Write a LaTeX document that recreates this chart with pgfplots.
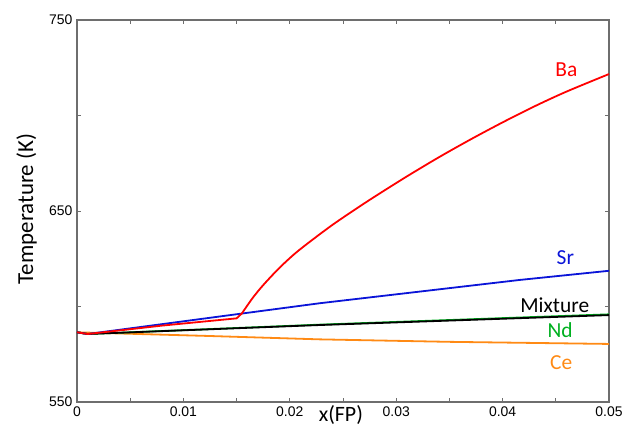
\documentclass[border=0pt]{standalone}
\usepackage{pgfplots}
\pgfplotsset{compat=1.18}
\usepackage{fontspec}
\setmainfont{Liberation Sans}
\newfontfamily\carlito{Carlito}

\definecolor{axgray}{HTML}{6E6E6E}
\definecolor{ba}{HTML}{FF0000}
\definecolor{sr}{HTML}{0A14D8}
\definecolor{nd}{HTML}{00B020}
\definecolor{ce}{HTML}{FF8A14}

\begin{document}
\begin{tikzpicture}
\begin{axis}[
    name=ax,
    scale only axis,
    width=532bp, height=382bp,
    xmin=0, xmax=0.05,
    ymin=550, ymax=750,
    axis line style={axgray, line width=1.2bp},
    tick style={axgray, line width=1bp},
    major tick length=4bp, minor tick length=4bp,
    tick align=inside,
    scaled x ticks=false,
    xtick={0,0.01,0.02,0.03,0.04,0.05},
    xticklabels={0,0.01,0.02,0.03,0.04,0.05},
    minor xtick={0.005,0.015,0.025,0.035,0.045},
    ytick={550,650,750},
    yticklabels={550,650,750},
    minor ytick={600,700},
    tick label style={font=\fontsize{14}{17}\selectfont},
    xticklabel style={yshift=-1bp},
    yticklabel style={xshift=-1bp},
    clip=false,
]
\addplot[ce, line width=1.8bp] coordinates {
(0,586.5) (0.0122,584.6) (0.0228,582.8) (0.035,581.5) (0.05,580.4)};
\addplot[nd, line width=1.8bp] coordinates {
(0,586.5) (0.001,585.6) (0.0228,590.5) (0.05,595.9)};
\addplot[black, line width=1.8bp] coordinates {
(0,586.5) (0.001,585.6) (0.0228,590.3) (0.05,595.5)};
\addplot[sr, line width=1.8bp] coordinates {
(0,586.5) (0.001,585.6) (0.0144,595.5) (0.0228,601.7) (0.0322,607.8)
(0.0416,613.9) (0.05,618.7)};
\addplot[ba, line width=1.8bp] coordinates {
(0,586.5) (0.001,585.6) (0.008,590.0) (0.015,593.8) (0.0155,596.4)};
\addplot[ba, line width=1.8bp, smooth, tension=0.5] coordinates {
(0.0155,596.4) (0.0165,604.4) (0.0175,611.2) (0.019,620.1) (0.0205,627.8)
(0.022,634.4) (0.024,642.7) (0.026,650.3) (0.028,657.6) (0.031,668.1)
(0.034,678.1) (0.037,687.5) (0.040,696.4) (0.043,704.8) (0.046,712.5)
(0.050,721.7)};

\node[ba, font=\carlito\fontsize{21.5}{25}\selectfont] at (axis cs:0.0460,723.8) {Ba};
\node[sr, font=\carlito\fontsize{21.5}{25}\selectfont] at (axis cs:0.0459,625.4) {Sr};
\node[black, font=\carlito\fontsize{21.5}{25}\selectfont] at (axis cs:0.0449,600.8) {Mixture};
\node[nd, font=\carlito\fontsize{21.5}{25}\selectfont] at (axis cs:0.0454,587.7) {Nd};
\node[ce, font=\carlito\fontsize{21.5}{25}\selectfont] at (axis cs:0.0455,570.4) {Ce};

\node[anchor=base, font=\carlito\fontsize{22}{26}\selectfont] at (rel axis cs:0.496,-0.050) {x(FP)};
\node[rotate=90, anchor=base, font=\carlito\fontsize{23}{27}\selectfont] at (rel axis cs:-0.0827,0.505) {Temperature (K)};
\end{axis}
\pgfresetboundingbox
\path[use as bounding box] ([shift={(-77bp,-24bp)}]ax.south west) rectangle ([shift={(15bp,20bp)}]ax.north east);
\end{tikzpicture}
\end{document}
